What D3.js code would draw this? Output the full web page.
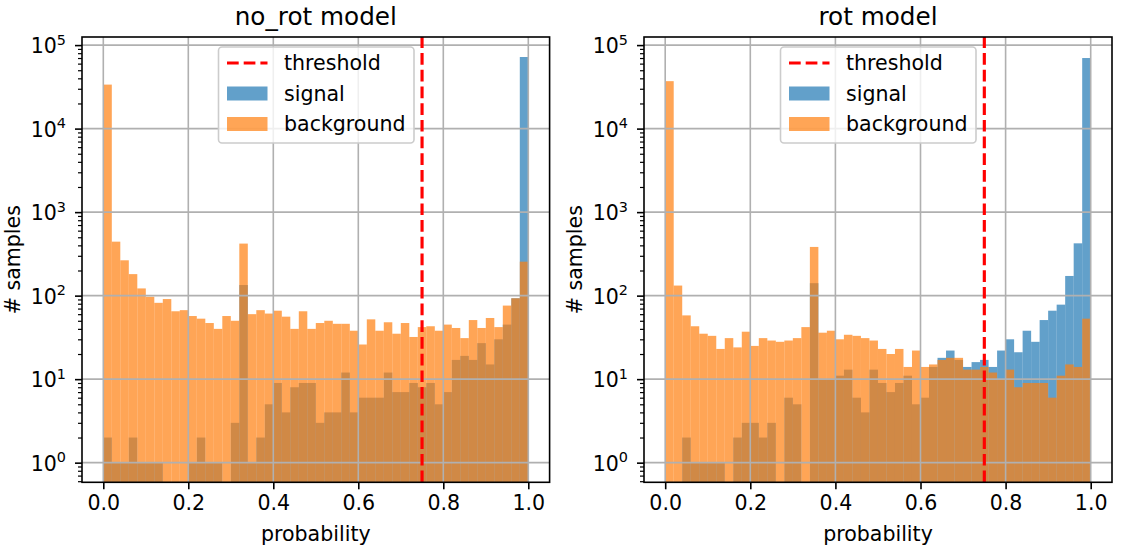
<!DOCTYPE html>
<html><head><meta charset="utf-8">
<script src="https://cdn.jsdelivr.net/npm/d3@7"></script>
<style>html,body{margin:0;padding:0;background:#fff}svg{display:block}text{font-family:"DejaVu Sans";fill:#000}</style>
</head><body><svg id="c" width="1127" height="552"></svg>
<script>
const binEdges = d3.range(50).map(i => i / 50);
const noRotSignal = [2,1,1,2,1,1,1,0,0,0,1,2,1,1,0,3,134,1,2,5,9,4,8,9,9,3,4,4,12,4,6,6,6,12,7,7,9,8,9,5,7,17,19,17,27,15,30,45,93,72000];
const noRotBackground = [33650,443,265,181,122,97,82,91,65,67,57,53,47,40,57,50,420,60,67,61,66,56,40,65,40,47,50,46,46,38,26,52,38,48,35,47,32,42,43,38,45,41,31,51,41,54,42,76,93,255];
const rotSignal = [0,0,2,1,1,1,1,0,2,3,3,2,3,0,6,5,0,141,10,10,11,13,6,4,13,9,7,9,11,5,6,14,18,22,17,14,16,17,14,22,30,21,38,28,51,66,78,172,423,70000];
const rotBackground = [37000,132,58,43,35,33,23,31,24,37,25,31,29,28,29,31,42,383,36,38,30,34,33,31,29,23,20,23,14,22,14,15,17,18,18,13,13,14,12,10,13,8,9,9,9,6,11,15,14,53];
const xTicks = [0,0.2,0.4,0.6,0.8,1.0];
const yExponents = [0,1,2,3,4,5];
const threshold = 0.75;
const legendLabels = ["threshold","signal","background"];

const svg = d3.select("#c");
const BLUE = "#1f77b4", ORANGE = "#ff7f0e";
const FS = 20.55;
const DASH = "11.7,5";

function panel(cfg){
  const {left,right,top,bottom,x0,x1,title,signal,background} = cfg;
  const x = d3.scaleLinear().domain([0,1]).range([x0,x1]);
  const y = d3.scaleLog().domain([0.582,125000]).range([bottom,top]);
  const g = svg.append("g");
  const bw = 0.02;
  [[signal,BLUE],[background,ORANGE]].forEach(([vals,col])=>{
    g.append("g").selectAll("rect").data(vals.map((v,i)=>({v,b:binEdges[i]})).filter(d=>d.v>0)).join("rect")
      .attr("x",d=>x(d.b)).attr("width",d=>x(d.b+bw)-x(d.b))
      .attr("y",d=>y(d.v)).attr("height",d=>bottom-y(d.v))
      .attr("fill",col).attr("fill-opacity",0.7);
  });
  const grid = g.append("g").attr("stroke","#b0b0b0").attr("stroke-width",1.6);
  xTicks.forEach(t=>grid.append("line").attr("x1",x(t)).attr("x2",x(t)).attr("y1",top).attr("y2",bottom));
  yExponents.forEach(e=>grid.append("line").attr("x1",left).attr("x2",right).attr("y1",y(10**e)).attr("y2",y(10**e)));
  g.append("line").attr("x1",x(threshold)).attr("x2",x(threshold)).attr("y1",bottom).attr("y2",top)
    .attr("stroke","#ff0000").attr("stroke-width",3.15).attr("stroke-dasharray",DASH);

  // axes
  const xAxis = d3.axisBottom(x).tickValues(xTicks).tickFormat(d3.format(".1f")).tickSize(7).tickPadding(6);
  const xg = g.append("g").attr("transform",`translate(0,${bottom})`).call(xAxis);
  xg.select(".domain").remove();
  xg.selectAll("line").attr("stroke","#000").attr("stroke-width",1.6);
  xg.selectAll("text").style("font-size",FS+"px").style("font-family","DejaVu Sans").attr("fill","#000");

  const minor = [];
  d3.range(-1,6).forEach(e=>d3.range(2,10).forEach(m=>{const v=m*10**e; if(v>=0.582&&v<=125000) minor.push(v);}));
  const yMinor = d3.axisLeft(y).tickValues(minor).tickFormat("").tickSize(4);
  const ym = g.append("g").attr("transform",`translate(${left},0)`).call(yMinor);
  ym.select(".domain").remove();
  ym.selectAll("line").attr("stroke","#000").attr("stroke-width",1.2);

  const yAxis = d3.axisLeft(y).tickValues(yExponents.map(e=>10**e)).tickFormat("").tickSize(7);
  const yg = g.append("g").attr("transform",`translate(${left},0)`).call(yAxis);
  yg.select(".domain").remove();
  yg.selectAll("line").attr("stroke","#000").attr("stroke-width",1.6);
  yg.selectAll(".tick text").remove();
  yg.selectAll(".tick").append("text").attr("x",-16).attr("y",7.6).attr("text-anchor","end")
    .style("font-size",FS+"px").each(function(d){
      const t=d3.select(this);
      t.append("tspan").text("10");
      t.append("tspan").attr("dy",-8.6).style("font-size",(FS*0.7)+"px").text(Math.round(Math.log10(d)));
    });

  // spines
  g.append("rect").attr("x",left).attr("y",top).attr("width",right-left).attr("height",bottom-top)
    .attr("fill","none").attr("stroke","#000").attr("stroke-width",1.6);

  // labels
  const cx=(left+right)/2;
  g.append("text").attr("x",cx).attr("y",25).attr("text-anchor","middle").style("font-size","24.7px").text(title);
  g.append("text").attr("x",cx).attr("y",541).attr("text-anchor","middle").style("font-size",FS+"px").text("probability");
  g.append("text").attr("transform",`translate(${left-62.5},${(top+bottom)/2}) rotate(-90)`).attr("text-anchor","middle").style("font-size",FS+"px").text("# samples");

  // legend
  const lx=left+136.5, ly=47, lw=195.5, lh=96;
  const lg=g.append("g");
  lg.append("rect").attr("x",lx).attr("y",ly).attr("width",lw).attr("height",lh).attr("rx",3.5)
    .attr("fill","#fff").attr("fill-opacity",0.8).attr("stroke","#cccccc").attr("stroke-width",1.6);
  const rows=[16,46.5,77];
  lg.append("line").attr("x1",lx+8.5).attr("x2",lx+49).attr("y1",ly+rows[0]).attr("y2",ly+rows[0])
    .attr("stroke","#ff0000").attr("stroke-width",3.15).attr("stroke-dasharray",DASH);
  [BLUE,ORANGE].forEach((c,i)=>lg.append("rect").attr("x",lx+8.5).attr("y",ly+rows[i+1]-7).attr("width",40.5).attr("height",14)
    .attr("fill",c).attr("fill-opacity",0.7));
  legendLabels.forEach((s,i)=>lg.append("text").attr("x",lx+65.5).attr("y",ly+rows[i]+7).style("font-size",FS+"px").text(s));
}

panel({left:82,right:549.6,top:37,bottom:482.3,x0:103.3,x1:528.3,title:"no_rot model",signal:noRotSignal,background:noRotBackground});
panel({left:644,right:1112,top:37,bottom:482.3,x0:665.2,x1:1090.7,title:"rot model",signal:rotSignal,background:rotBackground});
</script></body></html>
